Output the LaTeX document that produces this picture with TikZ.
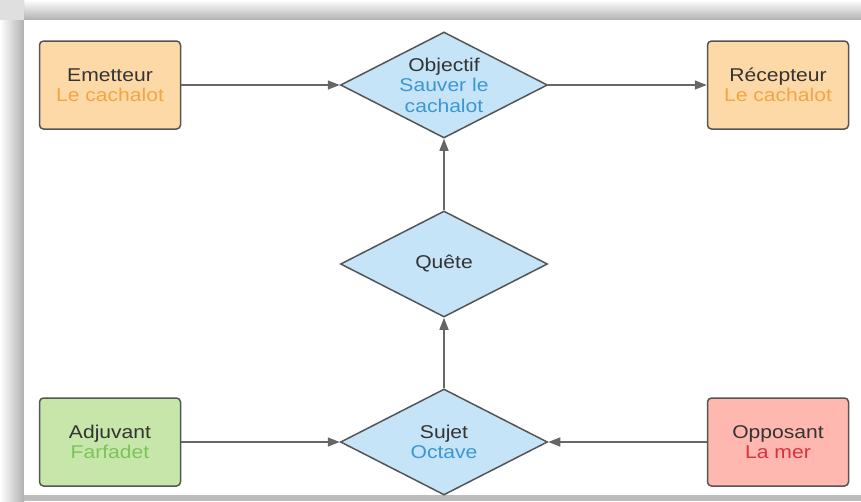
\documentclass[tikz,border=0pt]{standalone}
\usepackage{fontspec}
\setmainfont{Liberation Sans}[FakeStretch=1.14]
\usetikzlibrary{shapes.geometric,arrows.meta}
\definecolor{framegray}{HTML}{B0B0B0}
\definecolor{bordergray}{HTML}{555555}
\definecolor{arrowgray}{HTML}{666666}
\definecolor{txtdark}{HTML}{333333}
\definecolor{orfill}{HTML}{FED9A8}
\definecolor{ortxt}{HTML}{F2A541}
\definecolor{grfill}{HTML}{C6E7A9}
\definecolor{grtxt}{HTML}{7DC25B}
\definecolor{rdfill}{HTML}{FFB8B0}
\definecolor{rdtxt}{HTML}{D9323F}
\definecolor{blfill}{HTML}{C6E4F7}
\definecolor{bltxt}{HTML}{3A97D4}
\tikzset{
  lbl/.style={font=\fontsize{18.5}{20.5}\selectfont, text=txtdark, align=center},
  actorbox/.style={lbl, draw=bordergray, line width=1.5pt, rounded corners=4pt,
    minimum width=141pt, minimum height=88pt, inner sep=0pt},
  diam/.style={lbl, diamond, draw=bordergray, line width=1.5pt, fill=blfill,
    minimum width=207pt, minimum height=106pt, inner sep=0pt, aspect=2},
  conn/.style={draw=arrowgray, line width=1.4pt, -{Triangle[length=12pt,width=9pt]}}
}
\begin{document}
\begin{tikzpicture}[x=1pt,y=-1pt]
\useasboundingbox (0,0) rectangle (861,501);
% frame shadow
\fill[white] (0,0) rectangle (861,501);
\shade[top color=white, bottom color=framegray] (0,0) rectangle (861,20);
\shade[left color=white, right color=framegray] (0,0) rectangle (24,501);
\fill[white!60!framegray] (0,0) rectangle (24,20);
\fill[framegray!85] (24,495) rectangle (861,501);
\fill[white] (24,20) rectangle (861,495);
% nodes
\node[actorbox, fill=orfill] (emet) at (110,85) {Emetteur\\\textcolor{ortxt}{Le cachalot}};
\node[actorbox, fill=orfill] (recep) at (778,85) {Récepteur\\\textcolor{ortxt}{Le cachalot}};
\node[actorbox, fill=grfill] (adj) at (110,442) {Adjuvant\\\textcolor{grtxt}{Farfadet}};
\node[actorbox, fill=rdfill] (opp) at (778,442) {Opposant\\\textcolor{rdtxt}{La mer}};
\node[diam] (obj) at (444,85) {Objectif\\\textcolor{bltxt}{Sauver le}\\\textcolor{bltxt}{cachalot}};
\node[diam] (quete) at (444,264) {Quête};
\node[diam] (sujet) at (444,442) {Sujet\\\textcolor{bltxt}{Octave}};
% connectors
\draw[conn] (emet.east) -- (obj.west);
\draw[conn] (obj.east) -- (recep.west);
\draw[conn] (quete.north) -- (obj.south);
\draw[conn] (sujet.north) -- (quete.south);
\draw[conn] (adj.east) -- (sujet.west);
\draw[conn] (opp.west) -- (sujet.east);
\end{tikzpicture}
\end{document}
